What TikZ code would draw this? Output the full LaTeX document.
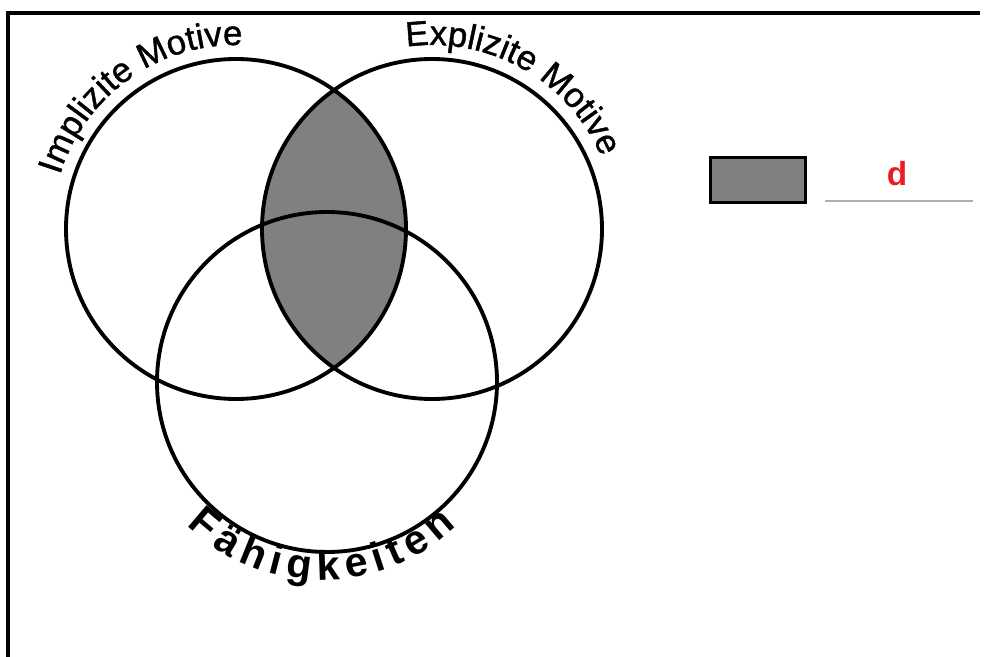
\documentclass[tikz,border=0pt]{standalone}
\usepackage{fontspec}
\setmainfont{Liberation Sans}
\newfontface\thicksans[FakeBold=1.2]{Liberation Sans}
\usetikzlibrary{calc, decorations.text}

\definecolor{venngray}{RGB}{128,128,128}
\definecolor{dred}{RGB}{237,28,36}
\definecolor{lightline}{RGB}{175,175,175}
\newcommand\toplabelfont{\thicksans\fontsize{26}{30}\selectfont}
\newcommand\botlabelfont{\fontsize{31}{36}\selectfont\bfseries}

\begin{document}
\begin{tikzpicture}[
  x=0.75pt, y=0.75pt,
  ring/.style={draw=black, line width=2.9pt},
  frameline/.style={draw=black, line width=2.6pt},
  legbox/.style={draw=black, line width=2.4pt, fill=venngray, minimum width=71pt, minimum height=34pt, inner sep=0pt},
  dlabel/.style={text=dred, font=\fontsize{25}{30}\selectfont\bfseries, inner sep=0pt},
  uline/.style={draw=lightline, line width=1.1pt},
  arclabel/.style={decorate, decoration={text along path, text align=fit to path, text={#1}}}
]
  \useasboundingbox (0,0) rectangle (993,657);

  % frame, only top and left visible
  \coordinate (ftr) at (980,644);
  \coordinate (ftl) at (8,644);
  \coordinate (fbl) at (8,0);
  \draw[frameline] (ftr) -- (ftl) -- (fbl);

  % circle centres
  \coordinate (impl) at (236,428);
  \coordinate (expl) at (432,428);
  \coordinate (faeh) at (327,275);

  % shaded overlap
  \begin{scope}
    \clip (impl) circle[radius=170];
    \fill[venngray] (expl) circle[radius=170];
  \end{scope}

  \draw[ring] (impl) circle[radius=170];
  \draw[ring] (expl) circle[radius=170];
  \draw[ring] (faeh) circle[radius=170];

  % labels along the circles
  \path[arclabel={|\toplabelfont|Implizite Motive}]
    ($(impl)+(163:184)$) arc[start angle=163, end angle=88, radius=184];
  \path[arclabel={|\toplabelfont|Explizite Motive}]
    ($(expl)+(98:184)$) arc[start angle=98, end angle=23, radius=184];
  \path[arclabel={|\botlabelfont|Fähigkeiten}]
    ($(322,271)+(226:194)$) arc[start angle=226, end angle=314, radius=194];

  % legend
  \node[legbox] (key) at (758,477) {};
  \node[dlabel] (d) at (897,483) {d};
  \coordinate (ul) at (825,456);
  \coordinate (ur) at (973,456);
  \draw[uline] (ul) -- (ur);
\end{tikzpicture}
\end{document}
